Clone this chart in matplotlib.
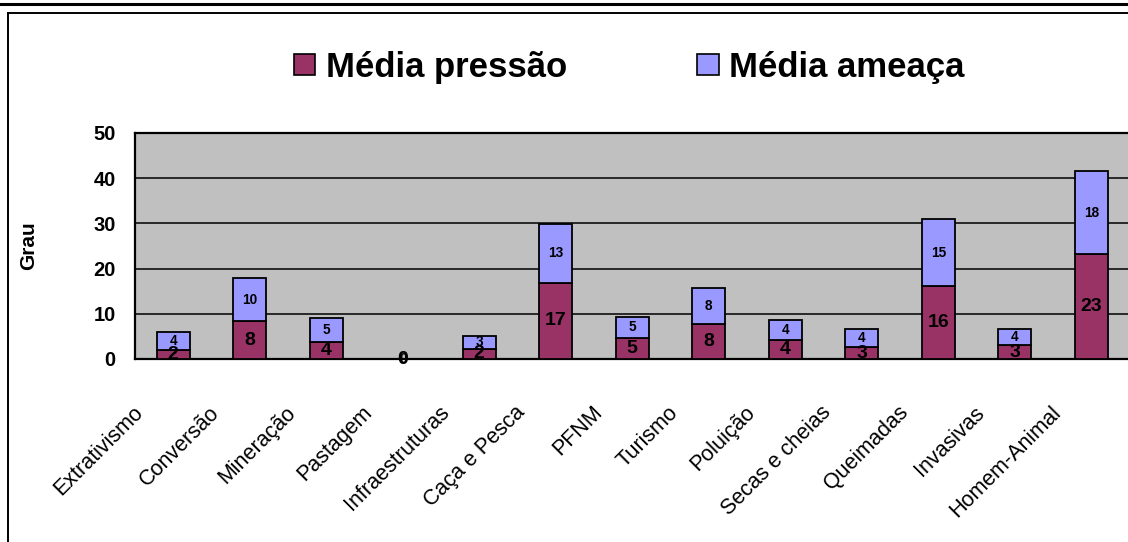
import matplotlib
matplotlib.use("Agg")
import matplotlib.pyplot as plt
from matplotlib.patches import Patch
from matplotlib.lines import Line2D
from matplotlib.transforms import ScaledTranslation

plt.rcParams['font.family'] = ['Liberation Sans', 'DejaVu Sans']

categorias = ["Extrativismo", "Conversão", "Mineração", "Pastagem", "Infraestruturas",
              "Caça e Pesca", "PFNM", "Turismo", "Poluição", "Secas e cheias",
              "Queimadas", "Invasivas", "Homem-Animal"]
media_pressao = [2.0, 8.3, 3.8, 0.0, 2.3, 16.9, 4.6, 7.7, 4.2, 2.6, 16.2, 3.0, 23.2]
media_ameaca = [3.9, 9.6, 5.2, 0.0, 2.8, 12.9, 4.8, 8.1, 4.4, 4.0, 14.7, 3.6, 18.4]
y_ticks = [0, 10, 20, 30, 40, 50]

COR_PRESSAO = "#993366"
COR_AMEACA = "#9999FF"
CINZA = "#C0C0C0"

W, H = 1128, 542
fig = plt.figure(figsize=(W / 100, H / 100), dpi=100)
fig.patch.set_facecolor("white")

# plot area in pixel terms
left_px, right_px, top_px, bot_px = 135, 1129.5, 133, 359
ax = fig.add_axes([left_px / W, 1 - bot_px / H, (right_px - left_px) / W, (bot_px - top_px) / H])
ax.set_facecolor(CINZA)

x = list(range(len(categorias)))
bw = 0.425
b1 = ax.bar(x, media_pressao, width=bw, color=COR_PRESSAO, edgecolor="black", linewidth=1.3, zorder=3)
b2 = ax.bar(x, media_ameaca, width=bw, bottom=media_pressao, color=COR_AMEACA,
            edgecolor="black", linewidth=1.3, zorder=3)

ax.bar_label(b1, fmt="%.0f", label_type="center", fontsize=14, fontweight="bold", color="black", zorder=5)
ax.bar_label(b2, fmt="%.0f", label_type="center", fontsize=9.8, fontweight="bold", color="black", zorder=5)

ax.set_xlim(-0.5, len(categorias) - 0.5)
ax.set_ylim(0, 50)
ax.set_yticks(y_ticks)
ax.set_yticklabels([str(v) for v in y_ticks], fontsize=14.5, fontweight="bold")
ax.yaxis.grid(True, color="black", linewidth=1.1, zorder=1)
ax.set_axisbelow(True)
ax.tick_params(axis="y", length=0, pad=14)
ax.tick_params(axis="x", length=0, pad=31)

ax.set_xticks(x)
ax.set_xticklabels(categorias, rotation=45, ha="right", va="top", fontsize=15.5)
shift = ScaledTranslation(-26 / 100, 0, fig.dpi_scale_trans)
for lbl in ax.get_xticklabels():
    lbl.set_transform(lbl.get_transform() + shift)

for side in ("top", "left", "bottom"):
    ax.spines[side].set_color("black")
    ax.spines[side].set_linewidth(1.6)
ax.spines["right"].set_visible(False)

ax.set_ylabel("Grau", fontsize=15, fontweight="bold")
ax.yaxis.set_label_coords((38 - left_px) / (right_px - left_px), 0.5)

handles = [Patch(facecolor=COR_PRESSAO, edgecolor="black", linewidth=1.2, label="Média pressão"),
           Patch(facecolor=COR_AMEACA, edgecolor="black", linewidth=1.2, label="Média ameaça")]
fig.legend(handles=handles, loc="center", bbox_to_anchor=(629 / W, 1 - 67 / H), ncol=2,
           frameon=False, prop={"size": 25, "weight": "bold"}, handlelength=0.62,
           handleheight=0.55, handletextpad=0.3, columnspacing=3.75)

# chart frame
fig.add_artist(Line2D([0, 1], [1 - 4 / H, 1 - 4 / H], color="black", linewidth=2.2))
fig.add_artist(Line2D([8 / W, 1], [1 - 13 / H, 1 - 13 / H], color="black", linewidth=1.4))
fig.add_artist(Line2D([8 / W, 8 / W], [0, 1 - 13 / H], color="black", linewidth=1.4))

fig.savefig("out.png", dpi=100)
